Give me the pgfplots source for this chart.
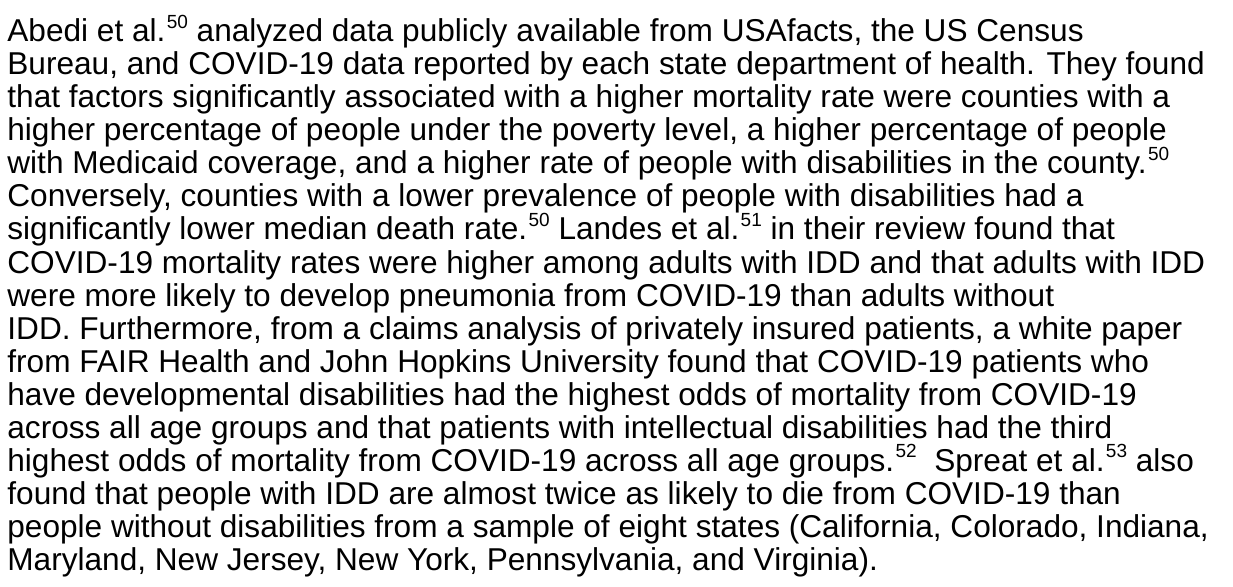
\documentclass[border=0pt]{standalone}
\usepackage{pgfplots}
\pgfplotsset{compat=1.18}
\usepackage{fontspec}
\setmainfont{Liberation Sans}
\newcommand{\sref}[1]{\kern0.04em\raisebox{0.44em}{\fontsize{9.5pt}{10pt}\selectfont #1}}
\begin{document}
\begin{tikzpicture}
\begin{axis}[
  hide axis, scale only axis, clip=false,
  width=616.5pt, height=293.5pt,
  xmin=0, xmax=1233, ymin=0, ymax=587, y dir=reverse,
]
\path (axis cs:0,0) rectangle (axis cs:1233,587);
\tikzset{tl/.style={anchor=base west, inner sep=0pt, font=\fontsize{15.8pt}{17pt}\selectfont}}
\node[tl] at (axis cs:7,42) {Abedi et al.\sref{50} analyzed data publicly available from USAfacts, the US Census};
\node[tl] at (axis cs:7,75) {Bureau, and COVID-19 data reported by each state department of health. They found};
\node[tl] at (axis cs:7,108) {that factors significantly associated with a higher mortality rate were counties with a};
\node[tl] at (axis cs:7,141) {higher percentage of people under the poverty level, a higher percentage of people};
\node[tl] at (axis cs:7,174) {with Medicaid coverage, and a higher rate of people with disabilities in the county.\sref{50}};
\node[tl] at (axis cs:7,207) {Conversely, counties with a lower prevalence of people with disabilities had a};
\node[tl] at (axis cs:7,240) {significantly lower median death rate.\sref{50} Landes et al.\sref{51} in their review found that};
\node[tl] at (axis cs:7,273) {COVID-19 mortality rates were higher among adults with IDD and that adults with IDD};
\node[tl] at (axis cs:7,306) {were more likely to develop pneumonia from COVID-19 than adults without};
\node[tl] at (axis cs:7,339) {IDD. Furthermore, from a claims analysis of privately insured patients, a white paper};
\node[tl] at (axis cs:7,372) {from FAIR Health and John Hopkins University found that COVID-19 patients who};
\node[tl] at (axis cs:7,405) {have developmental disabilities had the highest odds of mortality from COVID-19};
\node[tl] at (axis cs:7,438) {across all age groups and that patients with intellectual disabilities had the third};
\node[tl] at (axis cs:7,471) {highest odds of mortality from COVID-19 across all age groups.\sref{52}\ \ Spreat et al.\sref{53} also};
\node[tl] at (axis cs:7,504) {found that people with IDD are almost twice as likely to die from COVID-19 than};
\node[tl] at (axis cs:7,537) {people without disabilities from a sample of eight states (California, Colorado, Indiana,};
\node[tl] at (axis cs:7,570) {Maryland, New Jersey, New York, Pennsylvania, and Virginia).};
\end{axis}
\end{tikzpicture}
\end{document}
